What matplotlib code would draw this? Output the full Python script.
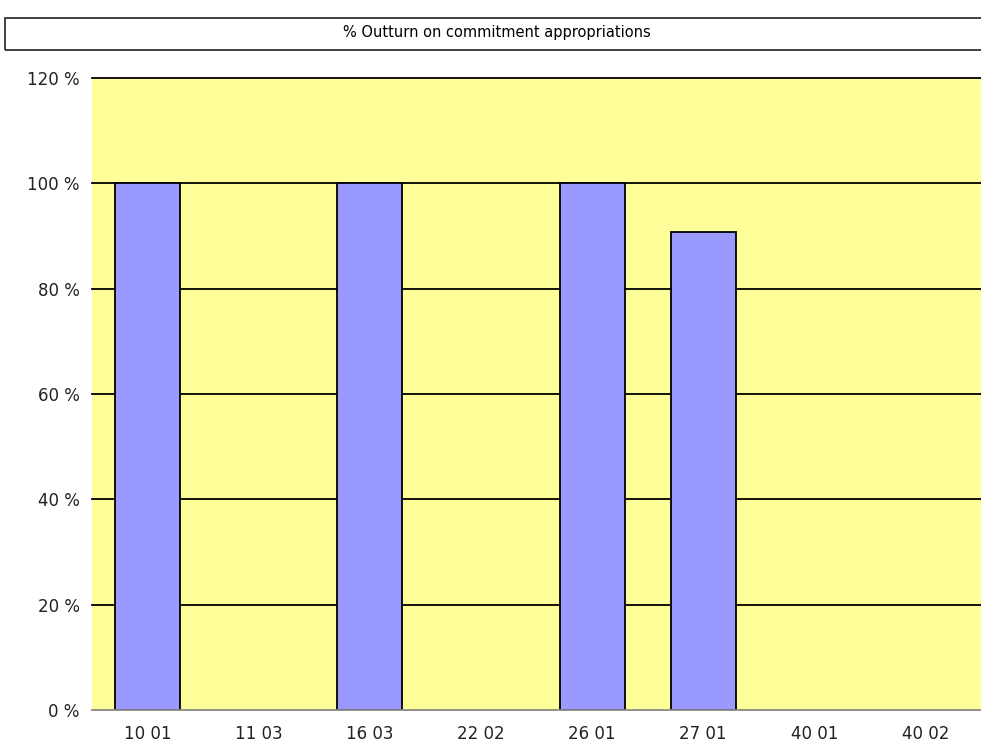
import matplotlib
matplotlib.use("Agg")
import matplotlib.pyplot as plt
import matplotlib.patches as patches

# data
categories = ["10 01", "11 03", "16 03", "22 02", "26 01", "27 01", "40 01", "40 02"]
outturn_pct = [100, 0, 100, 0, 100, 90.8, 0, 0]
y_ticks = [0, 20, 40, 60, 80, 100, 120]
title = "% Outturn on commitment appropriations"

fig = plt.figure(figsize=(9.81, 7.52), dpi=100)
fig.patch.set_facecolor("white")

# title box across the top
caixa = patches.Rectangle((5 / 981, 1 - 50 / 752), 1.0, 32 / 752, transform=fig.transFigure,
                          fill=False, edgecolor="#333333", linewidth=1.3)
fig.patches.append(caixa)
fig.text(497 / 981, 1 - 33 / 752, title, ha="center", va="center", fontsize=10.5, color="black")

ax = fig.add_axes([92 / 981, 42 / 752, 889 / 981, 632 / 752])
ax.set_facecolor("#FFFF99")

x = range(len(categories))
# empty bars get no outline, as in the reference
contornos = ["black" if v > 0 else "none" for v in outturn_pct]
ax.bar(x, outturn_pct, width=0.585, color="#9999FF", edgecolor=contornos, linewidth=1.3, zorder=3)

ax.set_xlim(-0.5, len(categories) - 0.5)
ax.set_ylim(0, 120)
ax.set_yticks(y_ticks)
ax.set_yticklabels([f"{v} %" for v in y_ticks])
ax.set_xticks(list(x))
ax.set_xticklabels(categories)
ax.tick_params(axis="both", length=0, labelsize=12, colors="#222222")
ax.tick_params(axis="y", pad=9)
ax.tick_params(axis="x", pad=11)

for v in y_ticks[1:]:
    ax.axhline(v, color="black", linewidth=1.3, zorder=2, clip_on=False)

for lado in ["left", "right", "top"]:
    ax.spines[lado].set_visible(False)
ax.spines["bottom"].set_color("#888888")
ax.spines["bottom"].set_linewidth(1.3)
ax.spines["bottom"].set_zorder(4)

fig.savefig("out.png", dpi=100)
